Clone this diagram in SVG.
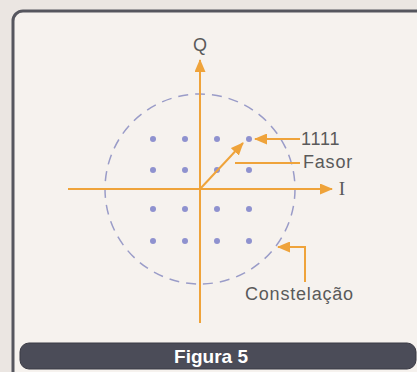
<svg xmlns="http://www.w3.org/2000/svg" width="417" height="372" viewBox="0 0 417 372">
<defs>
<marker id="ah" viewBox="0 0 13 11" refX="12" refY="5.5" markerWidth="13" markerHeight="11" markerUnits="userSpaceOnUse" orient="auto">
<path d="M0,0 L13,5.5 L0,11 Z" fill="#efa33a"/>
</marker>
<style>
.ax{stroke:#efa33a;stroke-width:2;fill:none}
.dot{fill:#8f92cf}
.lbl{font-family:"Liberation Sans",Arial,sans-serif;font-size:18px;letter-spacing:0.8px;fill:#5a5a5a}
</style>
</defs>
<rect width="417" height="372" fill="#ebe6e2"/>
<rect x="13" y="11" width="420" height="380" rx="10" fill="#f6f2ee" stroke="#56565e" stroke-width="3"/>
<g id="circle">
<circle cx="200" cy="189" r="95" fill="none" stroke="#9a9cc8" stroke-width="1.5" stroke-dasharray="10,7"/>
</g>
<g id="dots">
<circle class="dot" cx="153" cy="139" r="3"/><circle class="dot" cx="185" cy="139" r="3"/><circle class="dot" cx="217" cy="139" r="3"/><circle class="dot" cx="249" cy="139" r="3"/>
<circle class="dot" cx="153" cy="170" r="3"/><circle class="dot" cx="185" cy="170" r="3"/><circle class="dot" cx="217" cy="170" r="3"/><circle class="dot" cx="249" cy="170" r="3"/>
<circle class="dot" cx="153" cy="209" r="3"/><circle class="dot" cx="185" cy="209" r="3"/><circle class="dot" cx="217" cy="209" r="3"/><circle class="dot" cx="249" cy="209" r="3"/>
<circle class="dot" cx="153" cy="241" r="3"/><circle class="dot" cx="185" cy="241" r="3"/><circle class="dot" cx="217" cy="241" r="3"/><circle class="dot" cx="249" cy="241" r="3"/>
</g>
<g id="connectors">
<line class="ax" x1="200" y1="323" x2="200" y2="60" marker-end="url(#ah)"/>
<line class="ax" x1="68" y1="189" x2="332" y2="189" marker-end="url(#ah)"/>
<line class="ax" x1="200" y1="189" x2="243" y2="143" marker-end="url(#ah)"/>
<line class="ax" x1="300" y1="139" x2="255" y2="139" marker-end="url(#ah)"/>
<line class="ax" x1="235" y1="163" x2="300" y2="163"/>
<polyline class="ax" points="305,282 305,247 278,247" marker-end="url(#ah)"/>
</g>
<g id="labels">
<text class="lbl" x="200" y="51" text-anchor="middle" style="letter-spacing:0">Q</text>
<text x="342" y="195" text-anchor="middle" font-family="Liberation Serif,serif" font-size="19" fill="#5a5a5a">I</text>
<text class="lbl" x="301" y="145">1111</text>
<text class="lbl" x="303" y="168">Fasor</text>
<text class="lbl" x="245" y="300">Constelação</text>
</g>
<g id="caption">
<rect x="20" y="343" width="396" height="26" rx="9" fill="#4b4c58" stroke="#3a3a44" stroke-width="1"/>
<text x="211" y="363" text-anchor="middle" font-family="Liberation Sans,Arial,sans-serif" font-weight="bold" font-size="19" fill="#ffffff">Figura 5</text>
</g>
</svg>
